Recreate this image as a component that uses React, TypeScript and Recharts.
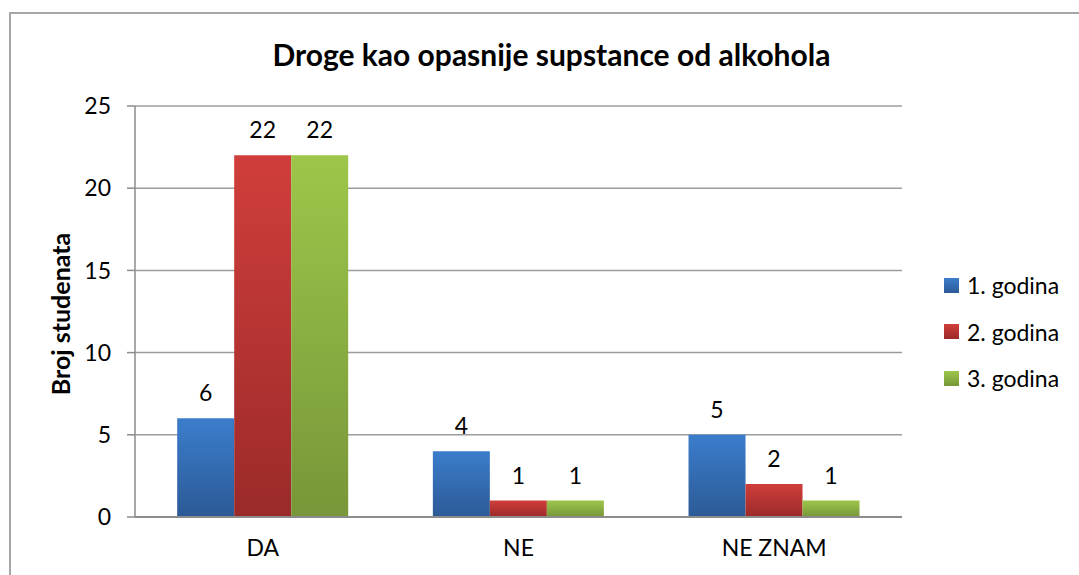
import React from "react";
import {
  BarChart,
  Bar,
  XAxis,
  YAxis,
  CartesianGrid,
  LabelList,
} from "recharts";

const categories = ["DA", "NE", "NE ZNAM"];
const year1 = [6, 4, 5];
const year2 = [22, 1, 2];
const year3 = [22, 1, 1];
const yTicks = [0, 5, 10, 15, 20, 25];

const SERIES = [
  { key: "y1", name: "1. godina", values: year1, top: "#3b7dcc", bottom: "#2c5a96" },
  { key: "y2", name: "2. godina", values: year2, top: "#d03e3b", bottom: "#9b2a2a" },
  { key: "y3", name: "3. godina", values: year3, top: "#9dc64a", bottom: "#779639" },
];

const FONT = "Lato, 'Open Sans', sans-serif";

const data = categories.map((c, i) => ({
  name: c,
  y1: year1[i],
  y2: year2[i],
  y3: year3[i],
}));

export default function App() {
  return (
    <div
      style={{
        position: "absolute",
        left: 0,
        top: 0,
        width: 1079,
        height: 575,
        overflow: "hidden",
        background: "#fff",
        fontFamily: FONT,
      }}
    >
      <div
        style={{
          position: "absolute",
          left: 9,
          top: 12,
          width: 1200,
          height: 700,
          border: "2px solid #a6a6a6",
        }}
      />
      <div
        style={{
          position: "absolute",
          left: 0,
          width: 1103,
          top: 36,
          textAlign: "center",
          fontSize: 30,
          fontWeight: 700,
        }}
      >
        Droge kao opasnije supstance od alkohola
      </div>
      <div
        style={{
          position: "absolute",
          left: 60,
          top: 314,
          transform: "translate(-50%, -50%) rotate(-90deg)",
          whiteSpace: "nowrap",
          fontSize: 25,
          fontWeight: 700,
        }}
      >
        Broj studenata
      </div>
      <BarChart
        width={1079}
        height={575}
        data={data}
        margin={{ top: 106, right: 177, bottom: 0, left: 0 }}
        barCategoryGap="16.5%"
        barGap={0}
        style={{ position: "absolute", left: 0, top: 0 }}
      >
        <defs>
          {SERIES.map((s) => (
            <linearGradient key={s.key} id={`g-${s.key}`} x1="0" y1="0" x2="0" y2="1">
              <stop offset="0%" stopColor={s.top} />
              <stop offset="100%" stopColor={s.bottom} />
            </linearGradient>
          ))}
        </defs>
        <CartesianGrid vertical={false} stroke="#9c9c9c" strokeWidth={1.5} />
        <XAxis
          dataKey="name"
          height={58}
          tickLine={false}
          axisLine={{ stroke: "#8c8c8c", strokeWidth: 2 }}
          tickMargin={17}
          tick={{ fontSize: 23, fill: "#000", fontFamily: FONT }}
        />
        <YAxis
          width={135}
          domain={[0, 25]}
          ticks={yTicks}
          tickSize={8}
          tickMargin={16}
          tickLine={{ stroke: "#8c8c8c", strokeWidth: 1.5 }}
          axisLine={{ stroke: "#8c8c8c", strokeWidth: 1.5 }}
          tick={{ fontSize: 23, fill: "#000", fontFamily: FONT }}
        />
        {SERIES.map((s) => (
          <Bar
            key={s.key}
            dataKey={s.key}
            name={s.name}
            fill={`url(#g-${s.key})`}
            isAnimationActive={false}
          >
            <LabelList
              dataKey={s.key}
              position="top"
              offset={17}
              style={{ fontSize: 23, fill: "#000", fontFamily: FONT }}
            />
          </Bar>
        ))}
      </BarChart>
      {SERIES.map((s, i) => (
        <div
          key={s.key}
          style={{
            position: "absolute",
            left: 944,
            top: 285 + i * 46.5,
            transform: "translateY(-50%)",
            display: "flex",
            alignItems: "center",
            fontSize: 23,
          }}
        >
          <span
            style={{
              width: 15,
              height: 15,
              marginRight: 8,
              background: `linear-gradient(${s.top}, ${s.bottom})`,
            }}
          />
          {s.name}
        </div>
      ))}
    </div>
  );
}
